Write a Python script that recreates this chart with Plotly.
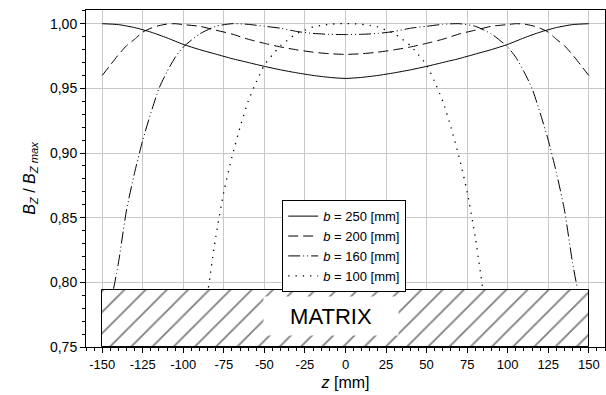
import plotly.graph_objects as go

# ---- data ----
z250 = [-150, -140, -130, -120, -110, -100, -90, -80, -70, -60, -50, -40, -30, -20, -10, 0,
        10, 20, 30, 40, 50, 60, 70, 80, 90, 100, 110, 120, 130, 140, 150]
b250 = [1.000, 0.9993, 0.9970, 0.9935, 0.9890, 0.9840, 0.9800, 0.9765, 0.9730, 0.9700, 0.9670,
        0.9643, 0.9620, 0.9600, 0.9585, 0.9577, 0.9585, 0.9600, 0.9620, 0.9643, 0.9670, 0.9700,
        0.9730, 0.9765, 0.9800, 0.9840, 0.9890, 0.9935, 0.9970, 0.9993, 1.000]

z200 = [-150, -145, -140, -135, -130, -125, -120, -115, -110, -105, -100, -90, -80, -70, -60,
        -50, -40, -30, -20, -10, 0, 10, 20, 30, 40, 50, 60, 70, 80, 90, 100, 105, 110, 115, 120,
        125, 130, 135, 140, 145, 150]
b200 = [0.960, 0.968, 0.976, 0.983, 0.988, 0.9935, 0.9965, 0.9985, 0.9997, 1.000, 0.9993, 0.998,
        0.995, 0.992, 0.988, 0.9848, 0.982, 0.9798, 0.978, 0.9768, 0.9763, 0.9768, 0.978, 0.9798,
        0.982, 0.9848, 0.988, 0.992, 0.995, 0.998, 0.9993, 1.000, 0.9997, 0.9985, 0.9965, 0.9935,
        0.988, 0.983, 0.976, 0.968, 0.960]

z160 = [-143, -140, -135, -130, -125, -120, -115, -110, -105, -100, -90, -80, -70, -60, -50, -40,
        -30, -20, -10, 0, 10, 20, 30, 40, 50, 60, 70, 80, 90, 100, 105, 110, 115, 120, 125, 130,
        135, 140, 143]
b160 = [0.795, 0.815, 0.856, 0.885, 0.910, 0.931, 0.950, 0.963, 0.974, 0.982, 0.992, 0.998, 1.000,
        0.9995, 0.998, 0.9965, 0.994, 0.9925, 0.9918, 0.9916, 0.9918, 0.9925, 0.994, 0.9965, 0.998,
        0.9995, 1.000, 0.998, 0.992, 0.982, 0.974, 0.963, 0.950, 0.931, 0.910, 0.885, 0.856, 0.815,
        0.795]

z100 = [-84.5, -80, -75, -70, -65, -60, -55, -50, -45, -40, -35, -30, -25, -20, -15, -10, -5, 0,
        5, 10, 15, 20, 25, 30, 35, 40, 45, 50, 55, 60, 65, 70, 75, 80, 84.5]
b100 = [0.796, 0.835, 0.870, 0.897, 0.920, 0.940, 0.955, 0.968, 0.976, 0.983, 0.988, 0.9925, 0.995,
        0.9975, 0.9987, 0.9995, 1.000, 1.000, 1.000, 0.9995, 0.9987, 0.9975, 0.995, 0.9925, 0.988,
        0.983, 0.976, 0.968, 0.955, 0.940, 0.920, 0.897, 0.870, 0.835, 0.796]

series_names = ["<i>b</i> = 250 [mm]", "<i>b</i> = 200 [mm]", "<i>b</i> = 160 [mm]", "<i>b</i> = 100 [mm]"]

matrix_x = [0]
matrix_width = [300]
matrix_base = [0.75]
matrix_height = [0.0444]
matrix_label = "MATRIX"
matrix_label_pos = (-9, 0.7738)

x_tickvals = [-150, -125, -100, -75, -50, -25, 0, 25, 50, 75, 100, 125, 150]
x_ticktext = ["-150", "-125", "-100", "-75", "-50", "-25", "0", "25", "50", "75", "100", "125", "150"]
y_tickvals = [0.75, 0.80, 0.85, 0.90, 0.95, 1.00]
y_ticktext = ["0,75", "0,80", "0,85", "0,90", "0,95", "1,00"]

FONT = "Arial, Liberation Sans, sans-serif"

fig = go.Figure()

fig.add_trace(go.Bar(
    x=matrix_x, y=matrix_height, base=matrix_base, width=matrix_width,
    marker=dict(color="white", line=dict(color="black", width=1),
                pattern=dict(shape="/", fgcolor="black", bgcolor="white", size=15, solidity=0.12)),
    showlegend=False, hoverinfo="skip"))

styles = [
    dict(color="black", width=1, dash="solid"),
    dict(color="black", width=1, dash="10px,5px"),
    dict(color="black", width=1, dash="12px,3px,1px,3px,1px,3px"),
    dict(color="black", width=1.3, dash="1.3px,6px"),
]
for zs, bs, name, st in zip([z250, z200, z160, z100], [b250, b200, b160, b100], series_names, styles):
    fig.add_trace(go.Scatter(x=zs, y=bs, mode="lines", name=name, line=dict(shape="spline", smoothing=0.6, **st)))

fig.add_annotation(x=matrix_label_pos[0], y=matrix_label_pos[1], text=matrix_label, showarrow=False,
                   font=dict(family=FONT, size=22, color="black"), bgcolor="white",
                   width=132, height=36)

fig.update_layout(
    width=606, height=395,
    margin=dict(l=86, r=1, t=10, b=48),
    paper_bgcolor="white", plot_bgcolor="white",
    font=dict(family=FONT, size=13, color="black"),
    bargap=0,
    legend=dict(x=0.378, y=0.4357, xanchor="left", yanchor="top",
                bgcolor="white", bordercolor="black", borderwidth=1,
                font=dict(family=FONT, size=13), tracegroupgap=0, itemwidth=30),
    xaxis=dict(range=[-160, 160], tickvals=x_tickvals, ticktext=x_ticktext,
               showgrid=True, gridcolor="#c8c8c8", gridwidth=1,
               showline=True, linecolor="black", linewidth=1, mirror=True,
               ticks="outside", ticklen=5, tickcolor="black",
               minor=dict(dtick=5, ticks="outside", ticklen=3, tickcolor="black", showgrid=False),
               zeroline=False, tickfont=dict(size=13),
               title=dict(text="<i>z</i> [mm]", font=dict(size=16), standoff=6)),
    yaxis=dict(range=[0.75, 1.0106], tickvals=y_tickvals, ticktext=y_ticktext,
               showgrid=True, gridcolor="#c8c8c8", gridwidth=1,
               showline=True, linecolor="black", linewidth=1, mirror=True,
               ticks="outside", ticklen=5, tickcolor="black",
               minor=dict(dtick=0.01, tick0=0.75, ticks="outside", ticklen=3, tickcolor="black", showgrid=False),
               zeroline=False, tickfont=dict(size=14),
               title=dict(text="<i>B</i><sub><i>Z</i></sub> / <i>B</i><sub><i>Z max</i></sub>",
                          font=dict(size=16), standoff=10)),
)

fig.write_html("out.html")
